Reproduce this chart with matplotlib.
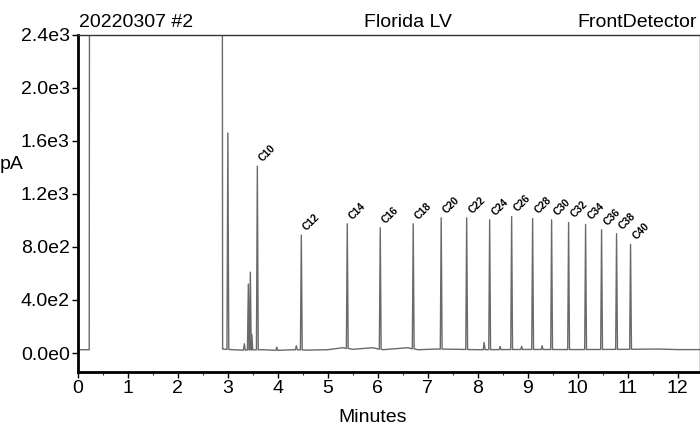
import matplotlib.pyplot as plt
from matplotlib.ticker import FuncFormatter, MultipleLocator

plt.rcParams['font.family'] = ['Liberation Sans', 'DejaVu Sans']

# labelled n-alkane peaks (retention time in min, height in pA)
names = ["C10", "C12", "C14", "C16", "C18", "C20", "C22", "C24", "C26",
         "C28", "C30", "C32", "C34", "C36", "C38", "C40"]
rt = [3.59, 4.47, 5.39, 6.05, 6.71, 7.27, 7.78, 8.24, 8.68,
      9.10, 9.48, 9.82, 10.16, 10.48, 10.78, 11.06]
height = [1410, 890, 975, 945, 975, 1020, 1020, 1005, 1030,
          1015, 1005, 985, 970, 930, 900, 820]

# unlabelled peaks
other_rt = [3.00, 3.33, 3.41, 3.45, 3.48, 3.98, 4.37, 8.13, 8.45, 8.88, 9.29]
other_h = [1660, 70, 520, 610, 140, 45, 55, 80, 50, 50, 55]

# baseline points (min, pA)
base_t = [0.0, 0.22, 2.90, 3.1, 3.3, 3.7, 4.0, 4.3, 4.6, 5.0, 5.3, 5.5, 5.9, 6.1,
          6.6, 6.8, 7.2, 7.6, 8.0, 9.0, 10.0, 11.0, 11.6, 12.0, 12.45]
base_v = [25, 25, 30, 25, 22, 25, 20, 25, 22, 25, 40, 28, 40, 25,
          40, 25, 30, 28, 25, 27, 26, 28, 30, 26, 26]

# solvent front, off scale
solvent_start, solvent_end, solvent_top = 0.23, 2.89, 2600

peaks = sorted(zip(rt + other_rt, height + other_h))


def baseline(t):
    for i in range(len(base_t) - 1):
        if base_t[i] <= t <= base_t[i + 1]:
            f = (t - base_t[i]) / (base_t[i + 1] - base_t[i])
            return base_v[i] + f * (base_v[i + 1] - base_v[i])
    return base_v[-1]


xs = [0.0, solvent_start - 0.005, solvent_start, solvent_end, solvent_end + 0.005]
ys = [25, 25, solvent_top, solvent_top, 30]
bt = [t for t in base_t if t > solvent_end]
events = sorted([(t, None) for t in bt] + [(t, h) for t, h in peaks])
w = 0.018
for t, h in events:
    if h is None:
        xs.append(t)
        ys.append(baseline(t))
    else:
        b = baseline(t)
        xs += [t - w, t, t + w]
        ys += [b, h, b]

fig = plt.figure(figsize=(7, 4.23), dpi=100)
ax = fig.add_axes([0.1114, 0.1206, 0.8886, 0.797])
ax.plot(xs, ys, color="#6a6a6a", lw=1.0)

for n, t, h in zip(names, rt, height):
    ax.text(t, h + 20, n, rotation=45, ha="left", va="bottom",
            fontsize=7.5, fontweight="bold")

ax.set_xlim(0, 12.45)
ax.set_ylim(-143, 2400)
ax.xaxis.set_major_locator(MultipleLocator(1))
ax.xaxis.set_minor_locator(MultipleLocator(0.5))
ax.yaxis.set_major_locator(MultipleLocator(400))


def sci(v, pos):
    if abs(v) < 1e-9:
        return "0.0e0"
    e = len(str(int(abs(v)))) - 1
    return f"{v / 10 ** e:.1f}e{e}"


ax.yaxis.set_major_formatter(FuncFormatter(sci))
ax.tick_params(axis="both", labelsize=14, direction="out", length=4, width=1,
               pad=2)
ax.tick_params(axis="x", which="minor", length=2)
for s in ["left", "bottom"]:
    ax.spines[s].set_linewidth(2)
for s in ["top", "right"]:
    ax.spines[s].set_linewidth(1)
    ax.spines[s].set_color("#333333")

fig.text(0.113, 0.935, "20220307 #2", fontsize=14, ha="left", va="baseline")
fig.text(0.583, 0.935, "Florida LV", fontsize=14, ha="center", va="baseline")
fig.text(0.996, 0.935, "FrontDetector", fontsize=14, ha="right", va="baseline")
fig.text(0.0, 0.61, "pA", fontsize=14, ha="left", va="center")
fig.text(0.533, 0.034, "Minutes", fontsize=14, ha="center", va="top")

fig.savefig("out.png", dpi=100)
